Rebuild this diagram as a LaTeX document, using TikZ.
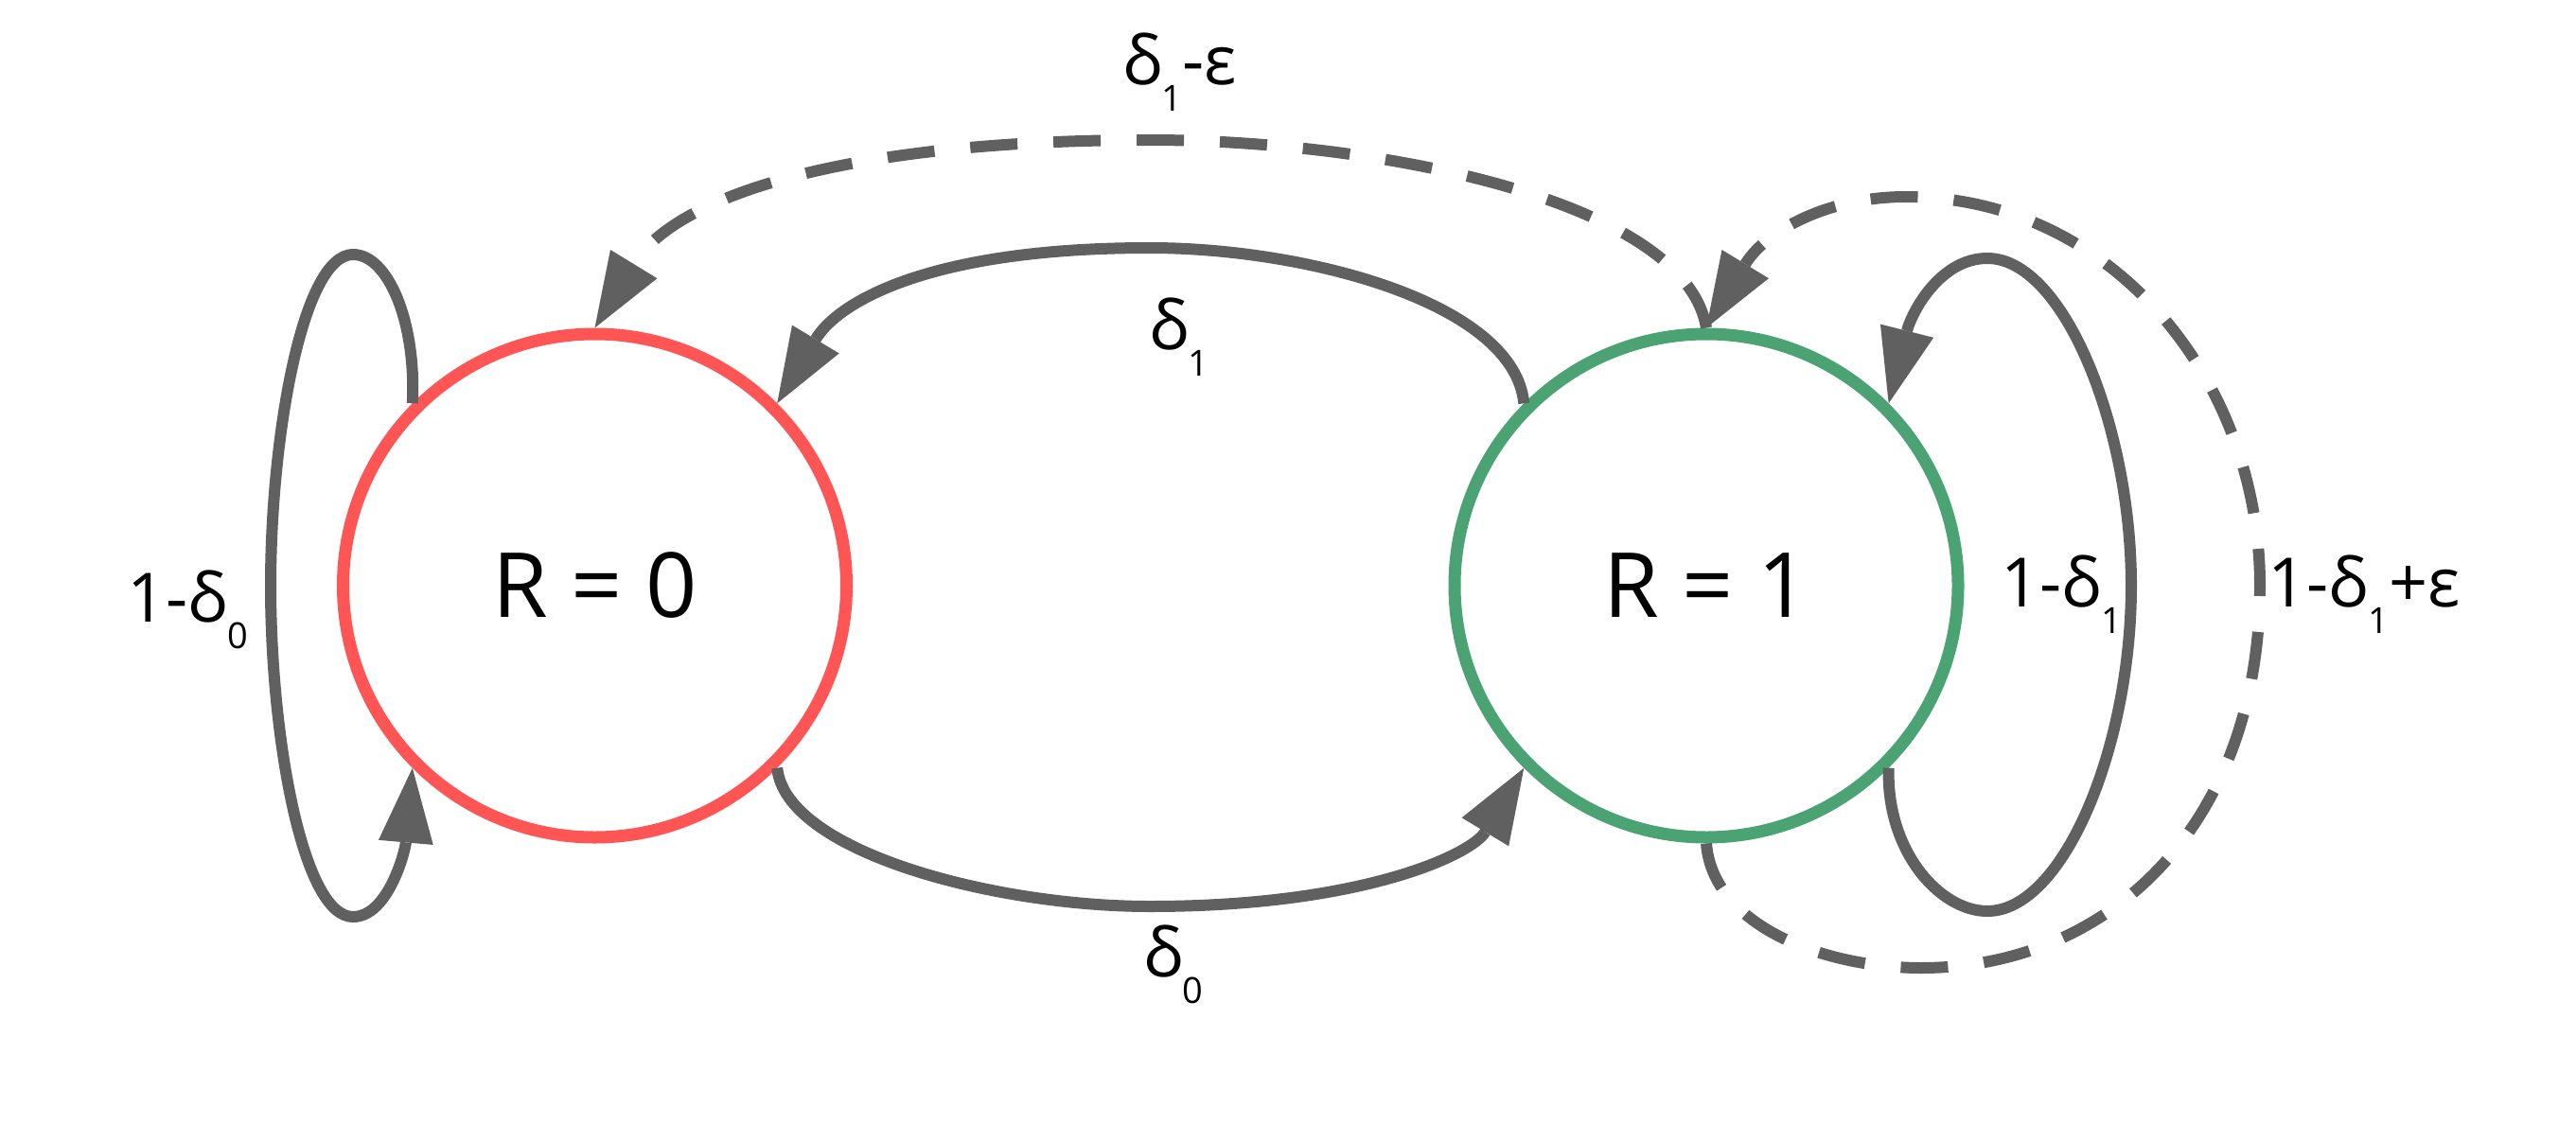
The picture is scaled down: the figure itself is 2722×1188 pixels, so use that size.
\documentclass[tikz,border=0pt]{standalone}
\usepackage{fontspec}
\setmainfont{Open Sans}
\usetikzlibrary{arrows.meta}
\definecolor{edgegray}{HTML}{606060}
\definecolor{redstate}{HTML}{FF5555}
\definecolor{greenstate}{HTML}{4BA373}
\newcommand{\lowsub}[1]{\raisebox{-28pt}{\fontsize{38}{38}\selectfont #1}}
\begin{document}
\begin{tikzpicture}[x=1pt,y=-1pt,
  state/.style={circle, minimum size=532pt, line width=13pt, inner sep=0pt, font=\fontsize{95}{95}\selectfont},
  conn/.style={draw=edgegray, line width=12pt, -{Triangle[length=79pt,width=58pt,line width=0pt]}},
  dconn/.style={conn, dash pattern=on 50pt off 38pt},
  lbl/.style={inner sep=0pt, anchor=base west, font=\fontsize{72}{72}\selectfont}]
\useasboundingbox (0,0) rectangle (2722,1188);
\node[state, draw=redstate] (s0) at (628.5,619) {R = 0};
\node[state, draw=greenstate] (s1) at (1803,619) {R = 1};
% self loop on R=0
\draw[conn] (s0.135) .. controls (440,340) and (410,269) .. (373,269)
  .. controls (320,269) and (286,460) .. (286,619)
  .. controls (286,780) and (320,969) .. (373,969)
  .. controls (410,969) and (428,900) .. (s0.225);
% self loop on R=1
\draw[conn] (s1.315) .. controls (1993,900) and (2050,963) .. (2100,963)
  .. controls (2180,963) and (2252,790) .. (2252,619)
  .. controls (2252,450) and (2180,273) .. (2100,273)
  .. controls (2050,273) and (2020,330) .. (s1.45);
% top solid arc
\draw[conn] (s1.135) .. controls (1600,320) and (1380,262) .. (1215,262)
  .. controls (980,262) and (885,320) .. (s0.45);
% bottom solid arc
\draw[conn] (s0.315) .. controls (830,900) and (1050,958) .. (1215,958)
  .. controls (1440,958) and (1555,903) .. (s1.225);
% top dashed arc
\draw[dconn] (s1.90) .. controls (1780,210) and (1450,148) .. (1215,148)
  .. controls (900,148) and (715,205) .. (s0.90);
% dashed loop on R=1
\draw[dconn] (s1.270) .. controls (1810,980) and (1930,1023) .. (2030,1023)
  .. controls (2230,1023) and (2388,870) .. (2388,619)
  .. controls (2388,400) and (2230,208) .. (2014,208)
  .. controls (1930,208) and (1865,245) .. (s1.90);
% labels
\node[lbl] (ltop) at (1186,90) {δ\lowsub{1}-ε};
\node[lbl] (lmid) at (1214,369) {δ\lowsub{1}};
\node[lbl] (lbot) at (1208,1032) {δ\lowsub{0}};
\node[lbl] (lleft) at (134,657) {1-δ\lowsub{0}};
\node[lbl] (lright) at (2114,641) {1-δ\lowsub{1}};
\node[lbl] (lfar) at (2396,641) {1-δ\lowsub{1}+ε};
\end{tikzpicture}
\end{document}
